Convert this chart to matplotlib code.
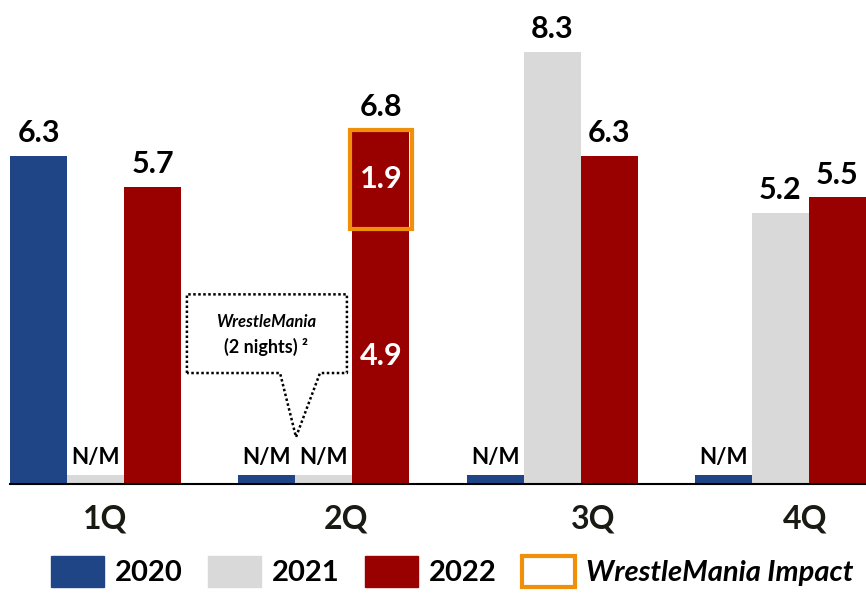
import numpy as np
import matplotlib
matplotlib.use("Agg")
from matplotlib import pyplot as plt
from matplotlib.patches import Patch, Rectangle

plt.rcParams["font.family"] = ["Lato", "DejaVu Sans"]
plt.rcParams["font.weight"] = "bold"

quarters = ["1Q", "2Q", "3Q", "4Q"]
y2020 = [6.3, 0.18, 0.18, 0.18]
lab2020 = ["6.3", "N/M", "N/M", "N/M"]
y2021 = [0.18, 0.18, 8.3, 5.2]
lab2021 = ["N/M", "N/M", "8.3", "5.2"]
y2022 = [5.7, 4.9, 6.3, 5.5]
wm_impact = [0, 1.9, 0, 0]
lab2022 = ["5.7", "6.8", "6.3", "5.5"]
series = ["2020", "2021", "2022"]

blue = "#1F4587"
gray = "#D9D9D9"
red = "#990000"
orange = "#F0900A"

fig = plt.figure(figsize=(8.66, 5.95), dpi=100)
ax = fig.add_axes([10 / 866, 111 / 595, 856 / 866, 484 / 595])

x = np.arange(len(quarters))
w = 0.25

b1 = ax.bar(x - w, y2020, w, color=blue)
b2 = ax.bar(x, y2021, w, color=gray)
b3 = ax.bar(x + w, y2022, w, color=red)
b4 = ax.bar(x + w, wm_impact, w, bottom=y2022, color=red)

def top_label(xc, h, txt):
    big = txt != "N/M"
    ax.annotate(txt, (xc, h), xytext=(0, 10 if big else 8), textcoords="offset points",
                ha="center", va="baseline", fontsize=22 if big else 16,
                fontweight="bold", color="black")

for i in range(len(quarters)):
    top_label(x[i] - w, y2020[i], lab2020[i])
    top_label(x[i], y2021[i], lab2021[i])
    top_label(x[i] + w, y2022[i] + wm_impact[i], lab2022[i])
    if wm_impact[i] > 0:
        ax.text(x[i] + w, y2022[i] / 2, f"{y2022[i]:.1f}", ha="center", va="center",
                fontsize=22, fontweight="bold", color="white")
        ax.text(x[i] + w, y2022[i] + wm_impact[i] / 2, f"{wm_impact[i]:.1f}", ha="center",
                va="center", fontsize=22, fontweight="bold", color="white")
        ax.add_patch(Rectangle((x[i] + w / 2 - 0.01, y2022[i]), w + 0.02, wm_impact[i],
                               fill=False, edgecolor=orange, lw=3, zorder=5))

# callout for WrestleMania
cx = [0.40, 0.40, 1.101, 1.101, 0.983, 0.878, 0.808, 0.40]
cy = [2.13, 3.64, 3.64, 2.13, 2.13, 0.90, 2.13, 2.13]
ax.plot(cx, cy, color="black", lw=1.8, linestyle=(0, (1, 1)))
ax.text(0.746, 3.11, "WrestleMania", ha="center", va="center", fontsize=12,
        fontweight="bold", fontstyle="italic")
ax.text(0.746, 2.63, "(2 nights) ²", ha="center", va="center", fontsize=13,
        fontweight="bold")

ax.set_xlim(-0.375, 3.375)
ax.set_ylim(0, 9.29)
for s in ["left", "right", "top"]:
    ax.spines[s].set_visible(False)
ax.spines["bottom"].set_linewidth(1.5)
ax.set_yticks([])
ax.set_xticks([])
nudge = [0.041, 0.099, 0.181, 0.107]
for i, q in enumerate(quarters):
    ax.text(x[i] + nudge[i], -0.4, q, ha="center", va="top", fontsize=23,
            fontweight="bold", color="#1a1a14")

handles = [Patch(color=blue), Patch(color=gray), Patch(color=red),
           Patch(facecolor="white", edgecolor=orange, lw=3)]
leg = fig.legend(handles, series + ["WrestleMania Impact"], loc="upper center",
                 bbox_to_anchor=(0.522, 54 / 595), ncol=4, frameon=False,
                 handlelength=1.82, handleheight=1.3,
                 handletextpad=0.38, columnspacing=0.86, borderpad=0,
                 prop={"weight": "bold", "size": 21})
leg.get_texts()[3].set_fontstyle("italic")

fig.savefig("out.png", dpi=100)
